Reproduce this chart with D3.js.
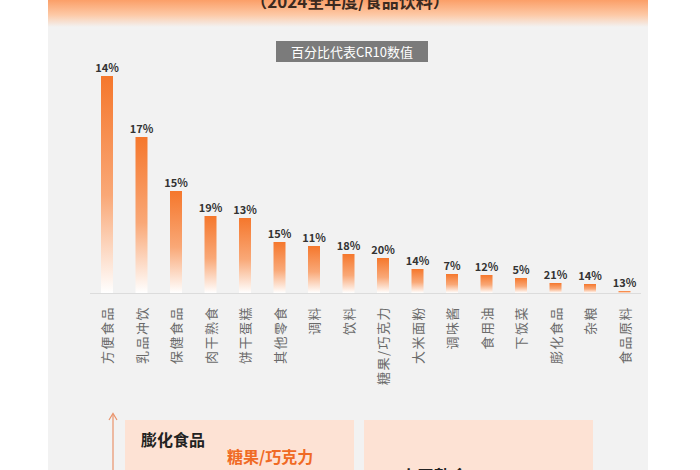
<!DOCTYPE html>
<html>
<head>
<meta charset="utf-8">
<script src="https://cdn.jsdelivr.net/npm/d3@7"></script>
<style>
  html, body { margin: 0; padding: 0; background: #fff; }
  svg { display: block; font-family: "Noto Sans CJK SC", "Noto Sans", sans-serif; }
</style>
</head>
<body>
<svg id="chart" width="700" height="470"></svg>
<script>
// categories, ordered as in the picture
const categories = ['方便食品', '乳品冲饮', '保健食品', '肉干熟食', '饼干蛋糕', '其他零食', '调料', '饮料',
  '糖果/巧克力', '大米面粉', '调味酱', '食用油', '下饭菜', '膨化食品', '杂粮', '食品原料'];
// bar heights (relative size)
const sizes = [21.7, 15.6, 10.2, 7.7, 7.5, 5.1, 4.7, 3.9, 3.5, 2.4, 1.9, 1.8, 1.5, 1.0, 0.9, 0.2];
// CR10 percentage printed above each bar
const cr10 = [14, 17, 15, 19, 13, 15, 11, 18, 20, 14, 7, 12, 5, 21, 14, 13];

const title = '（2024全年度/食品饮料）';
const subtitle = '百分比代表CR10数值';

const svg = d3.select('#chart');
const W = 700, H = 470;
const panelX = 48, panelW = 600;
const baseY = 293, topY = 76;

const defs = svg.append('defs');
const hg = defs.append('linearGradient').attr('id', 'head').attr('x1', 0).attr('y1', 0).attr('x2', 0).attr('y2', 1);
hg.append('stop').attr('offset', '0%').attr('stop-color', '#fb9f68');
hg.append('stop').attr('offset', '55%').attr('stop-color', '#fdc9a6');
hg.append('stop').attr('offset', '100%').attr('stop-color', '#f2f2f2');

const bg = defs.append('linearGradient').attr('id', 'bar').attr('x1', 0).attr('y1', 0).attr('x2', 0).attr('y2', 1);
bg.append('stop').attr('offset', '0%').attr('stop-color', '#f5772c');
bg.append('stop').attr('offset', '55%').attr('stop-color', '#f9a877');
bg.append('stop').attr('offset', '100%').attr('stop-color', '#ffffff');

// panel + header
svg.append('rect').attr('x', panelX).attr('y', 0).attr('width', panelW).attr('height', H).attr('fill', '#f2f2f2');
svg.append('rect').attr('x', panelX).attr('y', 0).attr('width', panelW).attr('height', 27).attr('fill', 'url(#head)');
svg.append('text').attr('x', 350).attr('y', 8).attr('text-anchor', 'middle')
  .attr('font-size', 17).attr('font-weight', 700).attr('fill', '#3b2a20').text(title);

// subtitle tag
svg.append('rect').attr('x', 276).attr('y', 41).attr('width', 152).attr('height', 21).attr('fill', '#7b7b7b');
svg.append('text').attr('x', 352).attr('y', 57).attr('text-anchor', 'middle')
  .attr('font-size', 13).attr('fill', '#fff').text(subtitle);

// scales
const x = d3.scalePoint().domain(categories).range([107, 624.5]);
const y = d3.scaleLinear().domain([0, d3.max(sizes)]).range([baseY, topY]);
const bw = 12;

svg.append('line').attr('x1', 90).attr('x2', 641).attr('y1', baseY + 0.5).attr('y2', baseY + 0.5)
  .attr('stroke', '#dcdcdc').attr('stroke-width', 1);

const data = categories.map((c, i) => ({ c, v: sizes[i], p: cr10[i] }));

svg.append('g').selectAll('rect').data(data).enter()
  .append('rect')
  .attr('x', d => x(d.c) - bw / 2)
  .attr('y', d => y(d.v))
  .attr('width', bw)
  .attr('height', d => baseY - y(d.v))
  .attr('fill', 'url(#bar)');

svg.append('g').selectAll('text').data(data).enter()
  .append('text')
  .attr('x', d => x(d.c))
  .attr('y', d => y(d.v) - 4)
  .attr('text-anchor', 'middle')
  .attr('font-size', 11).attr('font-weight', 600).attr('fill', '#333')
  .text(d => d.p + '%');

// category labels, rotated, reading upward
svg.append('g').selectAll('text').data(data).enter()
  .append('text')
  .attr('transform', d => `translate(${x(d.c) + 5},306) rotate(-90)`)
  .attr('text-anchor', 'end')
  .attr('font-size', 13).attr('letter-spacing', 1.5).attr('fill', '#6a6a6a')
  .text(d => d.c);

// lower section (cut off in the picture)
svg.append('line').attr('x1', 113).attr('x2', 113).attr('y1', 470).attr('y2', 414)
  .attr('stroke', '#e9936b').attr('stroke-width', 1.2);
svg.append('path').attr('d', 'M109,420 L113,413.5 L117,420').attr('fill', 'none')
  .attr('stroke', '#e9936b').attr('stroke-width', 1.2);
svg.append('rect').attr('x', 125).attr('y', 420).attr('width', 229).attr('height', 60).attr('fill', '#fde2d4');
svg.append('rect').attr('x', 364).attr('y', 420).attr('width', 229).attr('height', 60).attr('fill', '#fde2d4');
svg.append('text').attr('x', 141).attr('y', 446).attr('font-size', 16).attr('font-weight', 700)
  .attr('fill', '#222').text('膨化食品');
svg.append('text').attr('x', 227).attr('y', 463).attr('font-size', 16).attr('font-weight', 700)
  .attr('fill', '#f06a24').text('糖果/巧克力');
svg.append('text').attr('x', 400).attr('y', 483).attr('font-size', 17).attr('font-weight', 700)
  .attr('fill', '#222').text('肉干熟食');
</script>
</body>
</html>
